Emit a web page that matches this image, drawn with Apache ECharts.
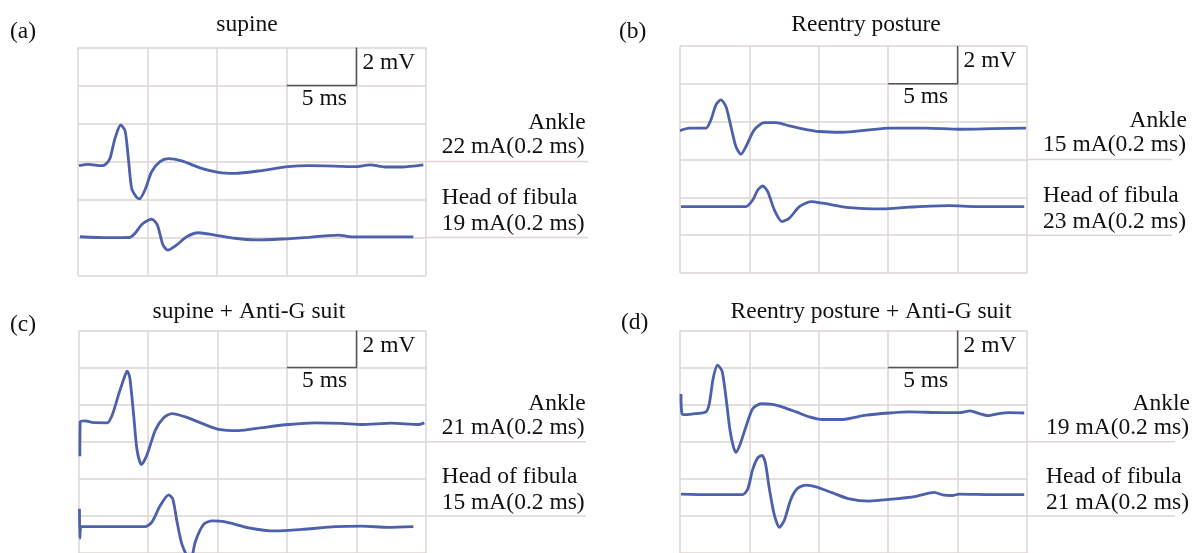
<!DOCTYPE html>
<html>
<head>
<meta charset="utf-8">
<script src="https://cdn.jsdelivr.net/npm/echarts@6/dist/echarts.min.js"></script>
<style>
  html, body { margin: 0; padding: 0; background: #fff; }
  #main { width: 1192px; height: 553px; }
</style>
</head>
<body>
<div id="main"></div>
<script>
// panels: (a) supine, (b) reentry, (c) supine + suit, (d) reentry + suit
const panelTags = ['(a)', '(b)', '(c)', '(d)']
const panelTitles = ['supine', 'Reentry posture', 'supine + Anti-G suit', 'Reentry posture + Anti-G suit']
const ankleStim = ['22 mA(0.2 ms)', '15 mA(0.2 ms)', '21 mA(0.2 ms)', '19 mA(0.2 ms)']
const fibulaStim = ['19 mA(0.2 ms)', '23 mA(0.2 ms)', '15 mA(0.2 ms)', '21 mA(0.2 ms)']

// traces as [time ms, level mV], grid is 25 ms x 12 mV
const supineAnkle = [[0.07,5.78],[0.74,5.85],[1.7,5.78],[2.0,5.86],[2.3,6.17],[2.66,7.22],[3.07,7.92],[3.38,7.62],[3.6,6.3],[3.85,4.6],[4.17,4.15],[4.41,4.03],[4.81,4.5],[5.29,5.46],[5.89,5.99],[6.49,6.15],[7.45,6.03],[8.88,5.64],[10.08,5.43],[11.28,5.38],[12.95,5.5],[15.11,5.73],[16.55,5.78],[18.46,5.76],[19.9,5.73],[20.98,5.82],[22.05,5.71],[23.25,5.71],[24.81,5.82]]
const supineFibula = [[0.14,2.04],[2.18,1.99],[3.7,2.0],[4.1,2.22],[4.6,2.7],[5.3,2.97],[5.7,2.66],[6.1,1.62],[6.45,1.34],[7.09,1.61],[7.81,2.04],[8.64,2.25],[9.84,2.13],[11.28,1.96],[12.72,1.87],[14.63,1.92],[16.55,2.01],[17.98,2.1],[18.7,2.13],[19.66,2.03],[21.82,2.03],[24.09,2.03]]
const reentryAnkle = [[0,7.53],[0.67,7.66],[1.87,7.66],[2.23,8.1],[2.59,8.89],[2.95,9.15],[3.31,8.8],[3.67,7.74],[4.03,6.68],[4.39,6.28],[4.75,6.68],[5.35,7.57],[6.08,7.95],[6.92,7.95],[7.88,7.78],[8.6,7.66],[10.04,7.48],[11.72,7.44],[13.64,7.57],[15.08,7.66],[17.72,7.66],[20.12,7.6],[22.53,7.63],[24.93,7.66]]
const reentryFibula = [[0.07,3.51],[2.11,3.51],[4.75,3.51],[5.24,3.86],[5.6,4.39],[5.96,4.6],[6.32,4.3],[6.8,3.33],[7.35,2.72],[7.88,2.9],[8.6,3.51],[9.44,3.77],[10.28,3.69],[12.2,3.46],[14.6,3.39],[16.52,3.48],[19.4,3.56],[21.33,3.51],[24.8,3.51]]
const suitAnkle = [[0.1,5.22],[0.12,7.08],[0.5,7.13],[0.98,7.04],[2.06,7.02],[2.42,7.43],[2.9,8.58],[3.33,9.55],[3.5,9.81],[3.69,9.46],[3.98,7.34],[4.21,5.57],[4.53,4.77],[4.93,5.3],[5.53,6.63],[6.13,7.3],[6.73,7.52],[7.69,7.34],[8.88,6.99],[10.08,6.67],[11.52,6.6],[13.19,6.76],[15.11,6.93],[17.03,7.02],[18.94,6.99],[20.38,6.93],[22.53,7.0],[24.45,6.93],[24.88,7.02]]
const suitFibula = [[0.07,2.39],[0.1,0.8],[0.2,1.42],[0.74,1.42],[2.66,1.42],[4.81,1.42],[5.29,1.68],[5.89,2.57],[6.49,3.13],[6.78,2.92],[7.09,1.68],[7.45,0.45],[8.05,-0.44],[8.41,0.62],[9.0,1.54],[9.6,1.73],[10.56,1.68],[12.24,1.36],[14.15,1.19],[16.07,1.27],[18.46,1.42],[20.38,1.45],[22.29,1.38],[24.09,1.42]]
const reentrySuitAnkle = [[0.07,8.58],[0.14,7.52],[0.43,7.46],[1.15,7.52],[1.87,7.61],[2.11,8.05],[2.4,9.46],[2.71,10.13],[3.03,9.81],[3.31,8.4],[3.6,6.63],[3.84,5.75],[4.03,5.43],[4.32,5.84],[4.75,6.81],[5.24,7.78],[5.84,8.05],[6.68,8.01],[7.4,7.87],[8.36,7.61],[9.32,7.34],[10.28,7.2],[11.72,7.2],[13.4,7.43],[15.08,7.55],[16.52,7.61],[18.93,7.57],[20.12,7.57],[20.89,7.66],[21.56,7.52],[22.17,7.41],[23.0,7.52],[23.73,7.57],[24.8,7.55]]
const reentrySuitFibula = [[0.07,3.18],[2.11,3.15],[4.52,3.15],[4.88,3.45],[5.24,4.51],[5.6,5.13],[5.91,5.27],[6.15,4.86],[6.44,3.45],[6.8,2.04],[7.16,1.38],[7.52,1.77],[8.0,2.92],[8.48,3.49],[9.08,3.66],[9.8,3.57],[11.0,3.24],[12.2,2.92],[13.64,2.8],[15.08,2.89],[17.0,3.06],[18.32,3.27],[18.93,3.13],[19.65,3.1],[20.12,3.18],[22.53,3.15],[24.8,3.15]]

// calibration bar: 5 ms by 2 mV
const scaleBar = [[15,10],[20,10],[20,12]]
const extendLevels = [6, 2]

const ankleTraces = [supineAnkle, reentryAnkle, suitAnkle, reentrySuitAnkle]
const fibulaTraces = [supineFibula, reentryFibula, suitFibula, reentrySuitFibula]

const grids = [
  { left: 78, top: 47.5, width: 348, height: 228 },
  { left: 680, top: 46, width: 347, height: 227 },
  { left: 78.5, top: 330.5, width: 347.5, height: 226.2 },
  { left: 680, top: 330.5, width: 347, height: 226.2 }
]
const tagPos = [[10, 32], [619, 32], [10, 325], [621, 323]]
const titlePos = [[247, 25], [866, 25], [249, 312], [871, 312]]
const textLeft = [441.7, 1043, 441.7, 1046]
const extendEnd = [588, 1172, 586, 1175]

const FONT = "'Liberation Serif', 'DejaVu Serif', serif"
const TRACE = '#4c60ad'
const GRIDLINE = '#dcd5d3'

const chart = echarts.init(document.getElementById('main'))

const axisCommon = {
  type: 'value',
  axisLabel: { show: false },
  axisTick: { show: false },
  axisLine: { show: false },
  splitLine: { show: true, lineStyle: { color: GRIDLINE, width: 1.5 } }
}

const series = []
grids.forEach((g, i) => {
  series.push({
    type: 'line', xAxisIndex: i, yAxisIndex: i, data: ankleTraces[i],
    showSymbol: false, smooth: 0.25, lineStyle: { color: TRACE, width: 2.8 }, z: 5
  })
  series.push({
    type: 'line', xAxisIndex: i, yAxisIndex: i, data: fibulaTraces[i],
    showSymbol: false, smooth: 0.25, lineStyle: { color: TRACE, width: 2.8 }, z: 5
  })
  series.push({
    type: 'line', xAxisIndex: i, yAxisIndex: i, data: scaleBar,
    showSymbol: false, lineStyle: { color: '#555', width: 1.5 }, z: 4
  })
})

chart.setOption({
  animation: false,
  grid: grids,
  xAxis: grids.map((g, i) => ({ ...axisCommon, gridIndex: i, min: 0, max: 25, interval: 5 })),
  yAxis: grids.map((g, i) => ({ ...axisCommon, gridIndex: i, min: 0, max: 12, interval: 2 })),
  series: series
})

const txt = (x, y, text, align) => ({
  type: 'text', x: x, y: y,
  style: { text: text, font: '23.5px ' + FONT, fill: '#111', align: align || 'left', verticalAlign: 'middle' }
})

const graphic = []
grids.forEach((g, i) => {
  const px = (t, v) => chart.convertToPixel({ gridIndex: i }, [t, v])
  graphic.push(txt(tagPos[i][0], tagPos[i][1], panelTags[i]))
  graphic.push(txt(titlePos[i][0], titlePos[i][1], panelTitles[i], 'center'))

  // horizontal lines running out under the stimulus labels
  extendLevels.forEach(lv => {
    const p = px(25, lv)
    graphic.push({
      type: 'line', shape: { x1: p[0], y1: p[1], x2: extendEnd[i], y2: p[1] },
      style: { stroke: GRIDLINE, lineWidth: 1.5 }, z: 1
    })
  })

  const mv = px(20, 11.2)
  graphic.push(txt(mv[0] + 6, mv[1], '2 mV'))
  const ms = px(17.7, 9.3)
  graphic.push(txt(ms[0], ms[1], '5 ms', 'center'))

  const L = textLeft[i]
  graphic.push(txt(L + 144, px(0, 8.05)[1], 'Ankle', 'right'))
  graphic.push(txt(L, px(0, 6.75)[1], ankleStim[i]))
  graphic.push(txt(L, px(0, 4.1)[1], 'Head of fibula'))
  graphic.push(txt(L, px(0, 2.7)[1], fibulaStim[i]))
})

chart.setOption({ graphic: graphic })
</script>
</body>
</html>
